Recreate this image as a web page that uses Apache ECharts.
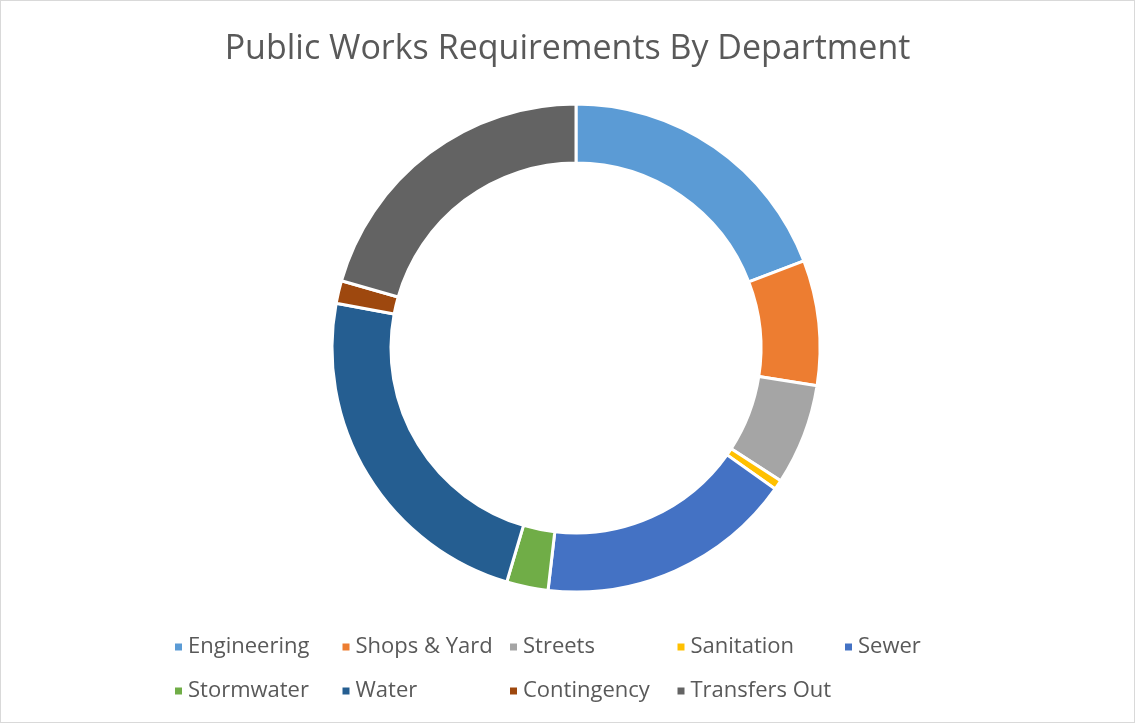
<!DOCTYPE html>
<html>
<head>
<meta charset="utf-8">
<script src="https://cdn.jsdelivr.net/npm/echarts@6/dist/echarts.min.js"></script>
<style>
  html, body { margin: 0; padding: 0; background: #fff; }
  #chart { width: 1135px; height: 723px; box-sizing: border-box; border: 1px solid #d9d9d9; }
</style>
</head>
<body>
<div id="chart"></div>
<script>
const departments = ['Engineering', 'Shops & Yard', 'Streets', 'Sanitation', 'Sewer',
  'Stormwater', 'Water', 'Contingency', 'Transfers Out'];
const amounts = [1919, 828, 669, 64, 1703, 275, 2336, 150, 2056];
const colors = ['#5B9BD5', '#ED7D31', '#A5A5A5', '#FFC000', '#4472C4',
  '#70AD47', '#255E91', '#9E480E', '#636363'];

let chart = echarts.init(document.getElementById('chart'));

// one legend per entry so they sit on a fixed 5-column grid like the original
let legends = departments.map((name, i) => ({
  data: [name],
  left: 167 + (i % 5) * 167.5,
  top: 630 + Math.floor(i / 5) * 44,
  itemWidth: 9,
  itemHeight: 9,
  icon: 'rect',
  textStyle: {
    color: '#595959',
    fontSize: 22,
    fontFamily: 'Open Sans'
  }
}));

let option = {
  animation: false,
  color: colors,
  title: {
    text: 'Public Works Requirements By Department',
    left: 'center',
    top: 26,
    textStyle: {
      color: '#595959',
      fontSize: 34,
      fontWeight: 'normal',
      fontFamily: 'Open Sans'
    }
  },
  legend: legends,
  series: [
    {
      name: 'Requirements',
      type: 'pie',
      center: [575, 347],
      radius: [185, 244],
      startAngle: 90,
      clockwise: true,
      label: { show: false },
      labelLine: { show: false },
      itemStyle: {
        borderColor: '#ffffff',
        borderWidth: 3
      },
      data: departments.map((name, i) => ({ name: name, value: amounts[i] }))
    }
  ]
};

chart.setOption(option);
</script>
</body>
</html>
